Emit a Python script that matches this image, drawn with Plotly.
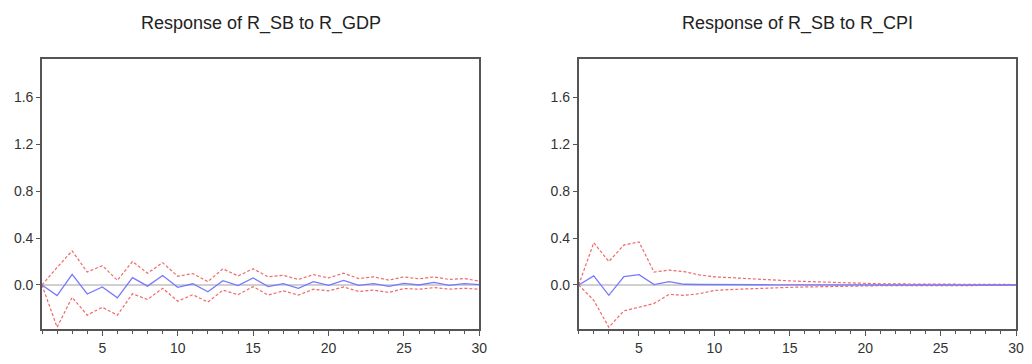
import plotly.graph_objects as go

periods = list(range(1, 31))

gdp_resp = [0, -0.09, 0.09, -0.077, -0.017, -0.11, 0.063, -0.01, 0.08, -0.02,
            0.01, -0.058, 0.036, -0.005, 0.06, -0.014, 0.011, -0.028, 0.028, -0.003,
            0.039, -0.003, 0.011, -0.011, 0.014, 0.0, 0.022, -0.003, 0.011, 0.003]
gdp_upper = [0, 0.15, 0.29, 0.11, 0.165, 0.04, 0.2, 0.1, 0.19, 0.074,
             0.097, 0.028, 0.138, 0.077, 0.138, 0.069, 0.083, 0.047, 0.088, 0.06,
             0.1, 0.055, 0.069, 0.041, 0.069, 0.052, 0.069, 0.047, 0.055, 0.033]
gdp_lower = [0, -0.36, -0.105, -0.257, -0.19, -0.257, -0.075, -0.124, -0.028, -0.138,
             -0.083, -0.146, -0.044, -0.083, -0.014, -0.086, -0.05, -0.086, -0.036, -0.05,
             -0.017, -0.055, -0.044, -0.063, -0.03, -0.036, -0.022, -0.036, -0.028, -0.036]

cpi_resp = [0, 0.077, -0.088, 0.072, 0.088, 0.003, 0.028, 0.006, 0.004, 0.005,
            0.003, 0.002, 0.002, 0.001, 0.001, 0.001, 0.0, 0.0, 0.0, 0.0,
            0.0, 0.0, 0.0, 0.0, 0.0, 0.0, 0.0, 0.0, 0.0, 0.0]
cpi_upper = [0, 0.36, 0.2, 0.34, 0.367, 0.11, 0.127, 0.113, 0.086, 0.069,
             0.063, 0.055, 0.05, 0.041, 0.035, 0.03, 0.025, 0.02, 0.015, 0.012,
             0.01, 0.009, 0.008, 0.007, 0.006, 0.006, 0.005, 0.005, 0.005, 0.004]
cpi_lower = [0, -0.13, -0.36, -0.22, -0.19, -0.157, -0.08, -0.088, -0.074, -0.047,
             -0.039, -0.033, -0.028, -0.024, -0.02, -0.017, -0.014, -0.011, -0.009, -0.007,
             -0.006, -0.006, -0.005, -0.005, -0.005, -0.004, -0.004, -0.004, -0.004, -0.004]

titles = ["Response of R_SB to R_GDP", "Response of R_SB to R_CPI"]
y_ticks = [0.0, 0.4, 0.8, 1.2, 1.6]
x_ticks = [5, 10, 15, 20, 25, 30]

BLUE = "#7878ff"
RED = "#f06868"
GREY = "#c0c0c0"
AXC = "#555555"
FONT = "Liberation Sans, Arial"

fig = go.Figure()

panels = [(gdp_resp, gdp_upper, gdp_lower), (cpi_resp, cpi_upper, cpi_lower)]
for i, (resp, up, lo) in enumerate(panels):
    xa = "x" if i == 0 else "x2"
    ya = "y" if i == 0 else "y2"
    fig.add_trace(go.Scatter(x=periods, y=[0] * len(periods), mode="lines",
                             line=dict(color=GREY, width=1.5), xaxis=xa, yaxis=ya,
                             showlegend=False, hoverinfo="skip"))
    fig.add_trace(go.Scatter(x=periods, y=up, mode="lines",
                             line=dict(color=RED, width=1.2, dash="3px,2px"),
                             xaxis=xa, yaxis=ya, showlegend=False))
    fig.add_trace(go.Scatter(x=periods, y=lo, mode="lines",
                             line=dict(color=RED, width=1.2, dash="3px,2px"),
                             xaxis=xa, yaxis=ya, showlegend=False))
    fig.add_trace(go.Scatter(x=periods, y=resp, mode="lines",
                             line=dict(color=BLUE, width=1.3),
                             xaxis=xa, yaxis=ya, showlegend=False))

axis_common = dict(showline=True, linecolor=AXC, linewidth=1.6, mirror=True,
                   showgrid=False, zeroline=False, ticks="outside",
                   tickcolor=AXC, tickfont=dict(size=14, color="#333333", family=FONT))
xcommon = dict(axis_common, range=[1, 30], tickvals=x_ticks, ticklen=5,
               minor=dict(dtick=1, tick0=1, ticks="outside", ticklen=3, tickcolor=AXC))
ycommon = dict(axis_common, range=[-0.375, 1.925], tickvals=y_ticks,
               ticktext=[f"{v:.1f}" for v in y_ticks], ticklen=4)

d1 = [0, 0.449]
d2 = [0.551, 1.0]
fig.update_layout(
    width=1032, height=364,
    margin=dict(l=42, r=8, t=59, b=29),
    paper_bgcolor="white", plot_bgcolor="white",
    xaxis=dict(xcommon, domain=d1, anchor="y"),
    yaxis=dict(ycommon, domain=[0, 1], anchor="x"),
    xaxis2=dict(xcommon, domain=d2, anchor="y2"),
    yaxis2=dict(ycommon, domain=[0, 1], anchor="x2"),
)

for t, d in zip(titles, [d1, d2]):
    fig.add_annotation(text=t, x=(d[0] + d[1]) / 2, y=1.0, xref="paper", yref="paper",
                       xanchor="center", yshift=36, yanchor="middle", showarrow=False,
                       font=dict(size=18, color="#222222", family=FONT))

fig.write_html("out.html", config={"displayModeBar": False},
               post_script="document.body.style.margin='0px';")
